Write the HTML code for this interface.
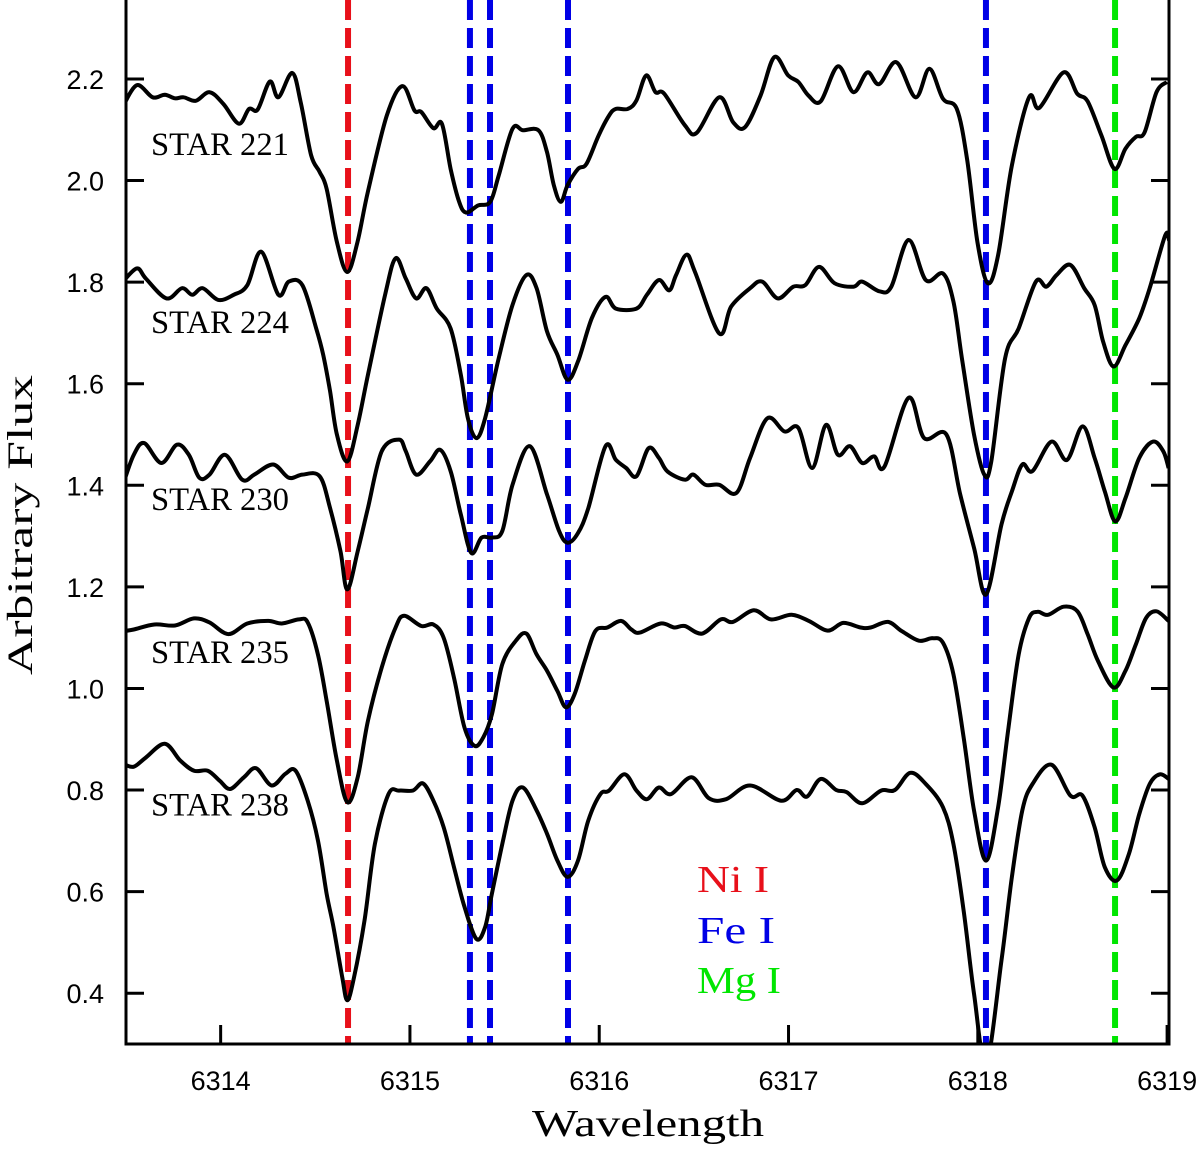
<!DOCTYPE html>
<html><head><meta charset="utf-8"><style>
html,body{margin:0;padding:0;background:#fff;}
svg{display:block;}
</style></head><body>
<svg id="chart" width="1200" height="1149" viewBox="0 0 1200 1149" xmlns="http://www.w3.org/2000/svg">
<defs><clipPath id="plotclip"><rect x="126" y="0" width="1043" height="1044"/></clipPath></defs>
<g id="lines" clip-path="url(#plotclip)"></g>
<g id="series" clip-path="url(#plotclip)"></g>
<g id="axes"></g>
<g id="labels"></g>
</svg>
<script>
const xTicks = [6314, 6315, 6316, 6317, 6318, 6319];
const yTicks = [0.4, 0.6, 0.8, 1.0, 1.2, 1.4, 1.6, 1.8, 2.0, 2.2];
const yTickLabels = ["0.4","0.6","0.8","1.0","1.2","1.4","1.6","1.8","2.0","2.2"];
const starNames = ["STAR 221","STAR 224","STAR 230","STAR 235","STAR 238"];
const starLabelFlux = [2.05, 1.70, 1.351, 1.05, 0.75];
const lineWaves = [6314.673, 6315.317, 6315.423, 6315.835, 6318.043, 6318.725];
const lineSpecies = ["Ni I","Fe I","Fe I","Fe I","Fe I","Mg I"];
const legendNames = ["Ni I","Fe I","Mg I"];
const legendColors = ["#e8101a","#0000e6","#00e600"];

const star221W = [6313.49,6313.559,6313.641,6313.705,6313.759,6313.805,6313.869,6313.941,6314.014,6314.096,6314.15,6314.196,6314.26,6314.305,6314.378,6314.423,6314.478,6314.523,6314.56,6314.614,6314.669,6314.723,6314.778,6314.878,6314.96,6315.024,6315.06,6315.124,6315.169,6315.215,6315.26,6315.297,6315.36,6315.424,6315.469,6315.542,6315.597,6315.679,6315.724,6315.76,6315.797,6315.833,6315.888,6315.933,6315.997,6316.052,6316.088,6316.151,6316.197,6316.248,6316.297,6316.343,6316.452,6316.515,6316.634,6316.707,6316.77,6316.852,6316.925,6316.998,6317.052,6317.106,6317.17,6317.261,6317.343,6317.416,6317.479,6317.57,6317.671,6317.744,6317.816,6317.889,6317.943,6317.998,6318.053,6318.107,6318.18,6318.271,6318.325,6318.453,6318.525,6318.58,6318.653,6318.722,6318.78,6318.835,6318.881,6318.944,6318.999];
const star221F = [2.151,2.188,2.164,2.169,2.162,2.164,2.157,2.174,2.151,2.112,2.141,2.140,2.195,2.164,2.212,2.154,2.050,2.017,1.984,1.879,1.820,1.879,1.978,2.128,2.186,2.138,2.135,2.103,2.112,2.023,1.958,1.937,1.951,1.958,2.010,2.102,2.099,2.099,2.056,1.991,1.958,1.991,2.023,2.033,2.089,2.128,2.141,2.141,2.158,2.207,2.174,2.171,2.109,2.094,2.164,2.115,2.105,2.167,2.243,2.207,2.194,2.167,2.156,2.225,2.174,2.213,2.190,2.233,2.164,2.220,2.161,2.141,2.043,1.879,1.798,1.853,2.030,2.164,2.143,2.213,2.171,2.156,2.089,2.023,2.063,2.086,2.095,2.174,2.194];

const star224W = [6313.49,6313.559,6313.605,6313.714,6313.796,6313.85,6313.905,6313.987,6314.069,6314.141,6314.214,6314.305,6314.36,6314.432,6314.505,6314.542,6314.578,6314.614,6314.669,6314.724,6314.778,6314.869,6314.924,6314.978,6315.033,6315.087,6315.142,6315.215,6315.269,6315.306,6315.351,6315.397,6315.469,6315.542,6315.615,6315.669,6315.724,6315.779,6315.833,6315.888,6315.961,6316.033,6316.088,6316.197,6316.252,6316.315,6316.37,6316.406,6316.461,6316.506,6316.634,6316.697,6316.797,6316.861,6316.943,6317.025,6317.088,6317.161,6317.243,6317.343,6317.389,6317.48,6317.543,6317.634,6317.725,6317.816,6317.871,6317.916,6317.98,6318.034,6318.071,6318.144,6318.216,6318.307,6318.362,6318.416,6318.489,6318.562,6318.617,6318.662,6318.717,6318.78,6318.853,6318.908,6318.99,6319.01];
const star224F = [1.804,1.827,1.807,1.768,1.788,1.775,1.788,1.765,1.775,1.794,1.860,1.775,1.801,1.794,1.709,1.657,1.585,1.500,1.447,1.519,1.617,1.775,1.847,1.807,1.768,1.788,1.748,1.709,1.617,1.532,1.493,1.532,1.650,1.755,1.814,1.788,1.703,1.657,1.608,1.644,1.729,1.771,1.748,1.748,1.775,1.804,1.784,1.814,1.854,1.820,1.699,1.752,1.788,1.801,1.768,1.791,1.794,1.830,1.798,1.791,1.801,1.782,1.791,1.883,1.804,1.817,1.762,1.650,1.500,1.421,1.447,1.650,1.709,1.801,1.791,1.814,1.834,1.788,1.755,1.683,1.634,1.676,1.729,1.788,1.892,1.883];

const star230W = [6313.49,6313.541,6313.596,6313.687,6313.769,6313.832,6313.887,6313.941,6314.023,6314.114,6314.178,6314.278,6314.36,6314.432,6314.523,6314.578,6314.633,6314.669,6314.724,6314.778,6314.851,6314.942,6314.978,6315.033,6315.106,6315.16,6315.215,6315.269,6315.324,6315.378,6315.433,6315.488,6315.542,6315.633,6315.724,6315.788,6315.833,6315.888,6315.942,6316.033,6316.088,6316.142,6316.197,6316.261,6316.315,6316.361,6316.452,6316.497,6316.561,6316.634,6316.725,6316.797,6316.888,6316.979,6317.052,6317.125,6317.198,6317.261,6317.325,6317.389,6317.452,6317.507,6317.634,6317.716,6317.834,6317.907,6317.98,6318.044,6318.125,6318.18,6318.235,6318.289,6318.389,6318.471,6318.553,6318.617,6318.671,6318.726,6318.78,6318.853,6318.926,6318.98,6319.008];
const star230F = [1.408,1.460,1.483,1.444,1.480,1.460,1.415,1.421,1.460,1.411,1.421,1.441,1.415,1.421,1.418,1.355,1.270,1.195,1.270,1.355,1.467,1.490,1.467,1.421,1.447,1.470,1.428,1.342,1.267,1.297,1.297,1.310,1.401,1.477,1.382,1.310,1.287,1.306,1.355,1.477,1.450,1.434,1.418,1.473,1.454,1.427,1.411,1.421,1.401,1.401,1.385,1.454,1.532,1.506,1.513,1.434,1.519,1.460,1.477,1.444,1.457,1.437,1.572,1.493,1.500,1.382,1.277,1.185,1.323,1.388,1.441,1.428,1.486,1.450,1.516,1.454,1.388,1.329,1.375,1.454,1.486,1.467,1.434];

const star235W = [6313.49,6313.541,6313.65,6313.759,6313.859,6313.941,6314.041,6314.141,6314.251,6314.323,6314.414,6314.46,6314.514,6314.56,6314.614,6314.669,6314.724,6314.778,6314.851,6314.924,6314.969,6315.06,6315.124,6315.178,6315.233,6315.288,6315.342,6315.388,6315.433,6315.488,6315.56,6315.615,6315.669,6315.724,6315.779,6315.824,6315.87,6315.924,6315.979,6316.043,6316.115,6316.17,6316.215,6316.324,6316.397,6316.452,6316.543,6316.643,6316.706,6316.816,6316.907,6317.016,6317.107,6317.207,6317.289,6317.38,6317.434,6317.525,6317.598,6317.689,6317.762,6317.816,6317.871,6317.925,6317.98,6318.044,6318.107,6318.162,6318.216,6318.271,6318.316,6318.371,6318.453,6318.526,6318.58,6318.635,6318.717,6318.78,6318.835,6318.889,6318.944,6319.008];
const star235F = [1.113,1.116,1.126,1.124,1.138,1.130,1.107,1.128,1.133,1.128,1.136,1.130,1.067,0.976,0.858,0.776,0.825,0.936,1.041,1.120,1.143,1.123,1.126,1.100,1.021,0.923,0.887,0.904,0.949,1.048,1.094,1.108,1.067,1.035,0.995,0.963,0.989,1.054,1.113,1.120,1.133,1.116,1.110,1.128,1.120,1.123,1.108,1.136,1.131,1.154,1.136,1.145,1.133,1.114,1.129,1.120,1.120,1.131,1.113,1.094,1.099,1.090,1.028,0.904,0.760,0.661,0.766,0.923,1.067,1.139,1.151,1.145,1.161,1.152,1.107,1.054,1.002,1.035,1.087,1.139,1.152,1.133];

const star238W = [6313.49,6313.541,6313.605,6313.705,6313.787,6313.859,6313.932,6313.996,6314.05,6314.123,6314.187,6314.269,6314.342,6314.396,6314.46,6314.514,6314.56,6314.596,6314.642,6314.669,6314.705,6314.76,6314.815,6314.887,6314.942,6315.015,6315.069,6315.124,6315.178,6315.233,6315.288,6315.351,6315.397,6315.433,6315.488,6315.542,6315.597,6315.669,6315.724,6315.779,6315.833,6315.888,6315.942,6316.006,6316.052,6316.133,6316.197,6316.252,6316.315,6316.379,6316.488,6316.579,6316.67,6316.797,6316.961,6317.043,6317.098,6317.17,6317.252,6317.307,6317.389,6317.489,6317.562,6317.643,6317.725,6317.816,6317.871,6317.925,6317.98,6318.044,6318.125,6318.18,6318.235,6318.289,6318.389,6318.489,6318.553,6318.617,6318.671,6318.735,6318.798,6318.853,6318.908,6318.962,6319.008];
const star238F = [0.851,0.846,0.864,0.891,0.858,0.838,0.838,0.818,0.802,0.825,0.843,0.809,0.832,0.838,0.779,0.701,0.596,0.530,0.432,0.386,0.432,0.543,0.694,0.792,0.799,0.799,0.813,0.779,0.727,0.648,0.570,0.507,0.530,0.596,0.694,0.779,0.805,0.760,0.714,0.661,0.629,0.661,0.740,0.792,0.799,0.831,0.799,0.782,0.805,0.792,0.825,0.784,0.782,0.809,0.779,0.800,0.787,0.822,0.800,0.796,0.774,0.799,0.800,0.834,0.812,0.766,0.694,0.563,0.399,0.26,0.465,0.629,0.760,0.812,0.850,0.789,0.789,0.727,0.648,0.622,0.674,0.753,0.812,0.831,0.822];

const NS = "http://www.w3.org/2000/svg";
const X0 = 126, X1 = 1169, Y0 = 1044, Y1 = 0;
const WMIN = 6313.5, WMAX = 6319.01, FMIN = 0.3, FMAX = 2.3555;
function xScale(w){ return X0 + (w - WMIN) / (WMAX - WMIN) * (X1 - X0); }
function yScale(f){ return Y0 - (f - FMIN) / (FMAX - FMIN) * (Y0 - Y1); }
function mk(tag, attrs, parent){ const e = document.createElementNS(NS, tag); for (const k in attrs) e.setAttribute(k, attrs[k]); parent.appendChild(e); return e; }

function smoothPath(ws, fs){
  const p = ws.map((w,i)=>[xScale(w), yScale(fs[i])]);
  let d = "M" + p[0][0].toFixed(1) + "," + p[0][1].toFixed(1);
  for (let i=0;i<p.length-1;i++){
    const a = p[Math.max(0,i-1)], b = p[i], c = p[i+1], e = p[Math.min(p.length-1,i+2)];
    const c1x = b[0] + (c[0]-a[0])/6, c1y = b[1] + (c[1]-a[1])/6;
    const c2x = c[0] - (e[0]-b[0])/6, c2y = c[1] - (e[1]-b[1])/6;
    d += " C" + c1x.toFixed(1)+","+c1y.toFixed(1)+" "+c2x.toFixed(1)+","+c2y.toFixed(1)+" "+c[0].toFixed(1)+","+c[1].toFixed(1);
  }
  return d;
}

const gLines = document.getElementById('lines');
lineWaves.forEach((w,i)=>{
  const col = legendColors[legendNames.indexOf(lineSpecies[i])];
  const l = mk('line', {x1: xScale(w), x2: xScale(w), y1: 0, y2: 1044, stroke: col, 'stroke-width': 6, 'stroke-dasharray': '20 8'}, gLines);
  
  
});

const gSeries = document.getElementById('series');
const allW = [star221W, star224W, star230W, star235W, star238W];
const allF = [star221F, star224F, star230F, star235F, star238F];
allW.forEach((ws,i)=>{
  const p = mk('path', {d: smoothPath(ws, allF[i]), fill: 'none', stroke: '#000', 'stroke-width': 4, 'stroke-linejoin': 'round'}, gSeries);
  
  
});

const gAxes = document.getElementById('axes');
const frame = mk('path', {d: 'M126,0 V1044 H1169 V0', fill: 'none', stroke: '#000', 'stroke-width': 3}, gAxes);


xTicks.forEach(t=>{
  const x = xScale(t);
  const tk = mk('line', {x1: x, x2: x, y1: 1044, y2: 1025, stroke: '#000', 'stroke-width': 3}, gAxes);
  
  
  const tx = mk('text', {x: x, y: 1090, 'text-anchor': 'middle', 'font-family': 'Liberation Sans, sans-serif', 'font-size': 27}, gAxes);
  tx.textContent = String(t);
  
  
});
yTicks.forEach((t,i)=>{
  const y = yScale(t);
  const tk = mk('line', {x1: 126, x2: 144, y1: y, y2: y, stroke: '#000', 'stroke-width': 3}, gAxes);
  
  
  const tk2 = mk('line', {x1: 1169, x2: 1151, y1: y, y2: y, stroke: '#000', 'stroke-width': 3}, gAxes);
  
  
  const tx = mk('text', {x: 104, y: y + 10, 'text-anchor': 'end', 'font-family': 'Liberation Sans, sans-serif', 'font-size': 27}, gAxes);
  tx.textContent = yTickLabels[i];
  
  
});

const gLab = document.getElementById('labels');
starNames.forEach((n,i)=>{
  const t = mk('text', {x: 151, y: yScale(starLabelFlux[i]), 'font-family': 'Liberation Serif, serif', 'font-size': 33, textLength: 138, lengthAdjust: 'spacingAndGlyphs'}, gLab);
  t.textContent = n;
  
  
});
const legY = [892, 943, 993];
const legLen = [72, 78, 84];
legendNames.forEach((n,i)=>{
  const t = mk('text', {x: 697, y: legY[i], fill: legendColors[i], 'font-family': 'Liberation Serif, serif', 'font-size': 38, textLength: legLen[i], lengthAdjust: 'spacingAndGlyphs'}, gLab);
  t.textContent = n;
  
  
});
const xt = mk('text', {x: 648, y: 1136, 'text-anchor': 'middle', 'font-family': 'Liberation Serif, serif', 'font-size': 38, textLength: 232, lengthAdjust: 'spacingAndGlyphs'}, gLab);
xt.textContent = 'Wavelength';


const yt = mk('text', {x: 0, y: 0, 'text-anchor': 'middle', transform: 'translate(32,525) rotate(-90)', 'font-family': 'Liberation Serif, serif', 'font-size': 36, textLength: 300, lengthAdjust: 'spacingAndGlyphs'}, gLab);
yt.textContent = 'Arbitrary Flux';


</script>
</body></html>
